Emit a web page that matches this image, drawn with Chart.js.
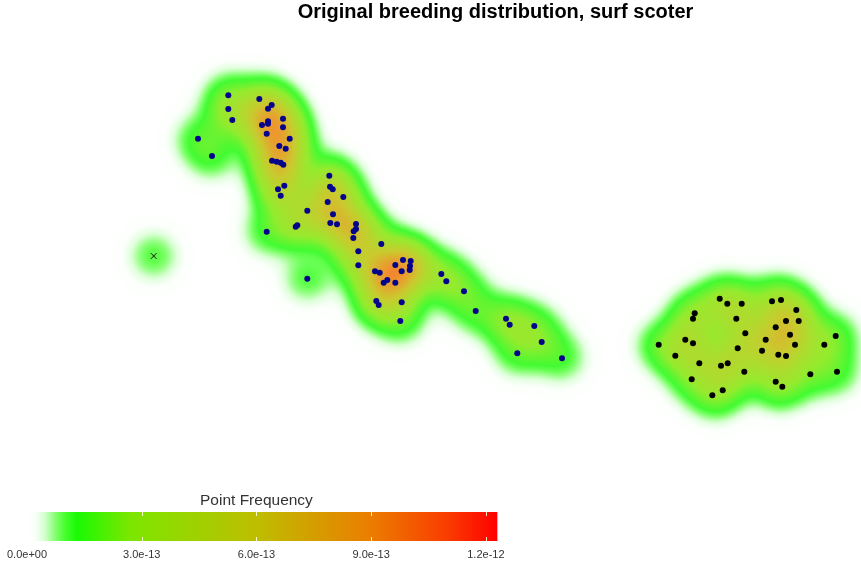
<!DOCTYPE html>
<html><head><meta charset="utf-8">
<style>html,body{margin:0;padding:0;background:#fff}canvas{display:block}</style>
<script src="https://cdn.jsdelivr.net/npm/chart.js@4"></script>
</head><body>
<div style="width:861px;height:564px"><canvas id="c" width="861" height="564"></canvas></div>
<script>
const chartTitle = "Original breeding distribution, surf scoter";
const legendTitle = "Point Frequency";
const westX = [228.3,228.3,232.3,198,212,259.3,271.7,268,283,283,268,268,262,266.7,289.7,279.3,285.7,272,276.7,280.7,283.3,284.3,278,280.7,307.3,266.7,295.7,297.3,307.3,329.3,330,332.7,343.3,327.7,333,330.3,337,356,356,353.7,353.3,358.3,358.3,381.3,375,379.7,395.3,403,410.7,410,409.7,401.7,387.3,383.7,395.3,376.3,378.7,401.7,400.3,441.3,446.3,464,475.7,506,509.7,534.3,541.7,517.3,562];
const westY = [95.3,109,120,138.7,156,99,105,108.7,118.7,127.3,121.3,123.7,125,133.7,138.7,146,148.7,160.7,161.7,162.7,164.7,185.7,189.3,195.7,210.7,231.7,226.7,225.3,278.7,175.7,186.7,189.3,197,202,214.3,223,224.3,224,229,231.3,238,251.3,265.3,244,271.3,272.7,265,260,261,266,270,271.3,280,282.7,282.7,301,305,302.3,321,274,281.3,291.3,311,318.7,324.7,326,342,353.3,358.3];
const eastX = [719.7,727.3,741.7,772,781,796.3,694.7,693,736.3,786,798.7,775.7,745.3,790,835.7,685.3,765.7,658.7,693,795,824.3,737.7,762,778.3,786,675.3,699.3,721,727.7,744.3,837,810.3,691.7,775.7,782.3,722.7,712.3];
const eastY = [298.7,303.7,303.7,301.3,300,310,313.3,318.7,318.7,321,321,327.3,333.3,334.7,336,339.7,339.7,344.7,343.3,344.7,344.7,348.3,350.7,354.7,356,355.7,363.3,365.7,363.3,371.7,371.7,374.3,379.3,381.7,386.7,390.3,395.3];
const crossX = [153.7];
const crossY = [256];
const tickValues = [0, 3e-13, 6e-13, 9e-13, 1.2e-12];
const rampValues = [0, 0.2e-13, 0.45e-13, 0.75e-13, 1.0e-13, 1.3e-13, 2.7e-13, 6e-13, 9e-13, 1.1e-12, 1.23e-12];
const rampColors = [[255,255,255],[250,255,250],[215,255,210],[130,255,110],[70,255,45],[25,250,5],[125,230,0],[190,190,0],[235,125,0],[250,60,0],[255,0,0]];
const bandwidth = 17;
const kernelPeak = 1.1e-13;
const heatOpacity = 0.82;

function rampColor(v){
  if(v<=rampValues[0]) return rampColors[0];
  for(let i=1;i<rampValues.length;i++){
    if(v<=rampValues[i]){
      const t=(v-rampValues[i-1])/(rampValues[i]-rampValues[i-1]);
      const a=rampColors[i-1],b=rampColors[i];
      return [a[0]+(b[0]-a[0])*t,a[1]+(b[1]-a[1])*t,a[2]+(b[2]-a[2])*t];
    }
  }
  return rampColors[rampColors.length-1];
}
const toPts=(xs,ys)=>xs.map((x,i)=>({x,y:ys[i]}));
const fmtTick=v=>{const [m,e]=Number(v).toExponential(1).split('e');const sign=e[0];const d=e.slice(1).padStart(2,'0');return m+'e'+sign+d;};

const heatPlugin={
  id:'heat',
  afterLayout(chart){ chart.titleBlock.left=130; },
  beforeDatasetsDraw(chart){
    const {ctx,scales:{x,y,f}}=chart;
    const W=chart.width,H=Math.round(y.getPixelForValue(505));
    const grid=new Float64Array(W*H);
    const ux=Math.abs(x.getPixelForValue(1)-x.getPixelForValue(0));
    const s=bandwidth*ux,R=Math.ceil(s*4);
    const add=(xs,ys)=>xs.forEach((vx,i)=>{
      const px=x.getPixelForValue(vx),py=y.getPixelForValue(ys[i]);
      for(let j=Math.max(0,Math.floor(py-R));j<Math.min(H,py+R);j++)
        for(let k=Math.max(0,Math.floor(px-R));k<Math.min(W,px+R);k++){
          const d=(k+.5-px)**2+(j+.5-py)**2;
          grid[j*W+k]+=kernelPeak*Math.exp(-d/(2*s*s));
        }
    });
    add(westX,westY);add(eastX,eastY);add(crossX,crossY);
    const off=document.createElement('canvas');off.width=W;off.height=H;
    const oc=off.getContext('2d'),img=oc.createImageData(W,H);
    for(let i=0;i<grid.length;i++){
      const c=rampColor(grid[i]);
      img.data[i*4]=c[0];img.data[i*4+1]=c[1];img.data[i*4+2]=c[2];img.data[i*4+3]=grid[i]<1e-15?0:255*heatOpacity;
    }
    oc.putImageData(img,0,0);
    ctx.drawImage(off,0,0);
    // colour bar
    const x0=f.getPixelForValue(0),x1=f.getPixelForValue(rampValues[rampValues.length-1]);
    const top=y.getPixelForValue(512),bot=y.getPixelForValue(541);
    const g=ctx.createLinearGradient(x0,0,x1,0);
    rampValues.forEach((v,i)=>g.addColorStop(v/rampValues[rampValues.length-1],`rgb(${rampColors[i].join(',')})`));
    ctx.fillStyle=g;ctx.fillRect(x0,top,x1-x0,bot-top);
    ctx.strokeStyle='rgba(255,255,220,.9)';ctx.lineWidth=1;
    tickValues.slice(1).forEach(v=>{
      const p=Math.round(f.getPixelForValue(v))+.5;
      ctx.beginPath();ctx.moveTo(p,top);ctx.lineTo(p,top+4);ctx.moveTo(p,bot-4);ctx.lineTo(p,bot);ctx.stroke();
    });
    ctx.fillStyle='#333';ctx.font='15.5px "Liberation Sans"';ctx.textAlign='center';ctx.textBaseline='middle';
    ctx.fillText(legendTitle,f.getPixelForValue(6e-13),y.getPixelForValue(501));
  }
};

new Chart(document.getElementById('c'),{
  type:'scatter',
  data:{datasets:[
    {label:'west',data:toPts(westX,westY),backgroundColor:'#05058c',borderColor:'#05058c',pointRadius:3,borderWidth:0,clip:false},
    {label:'east',data:toPts(eastX,eastY),backgroundColor:'#000',borderColor:'#000',pointRadius:3,borderWidth:0,clip:false},
    {label:'cross',data:toPts(crossX,crossY),pointStyle:'crossRot',pointRadius:4,borderColor:'#111',pointBorderWidth:1,backgroundColor:'#111',clip:false}
  ]},
  plugins:[heatPlugin],
  options:{
    responsive:false,animation:false,
    layout:{padding:0,autoPadding:false},
    plugins:{
      legend:{display:false},tooltip:{enabled:false},
      title:{display:true,text:chartTitle,color:'#000',font:{family:'"Liberation Sans"',size:20,weight:'bold'},padding:{top:0,bottom:0}}
    },
    scales:{
      x:{type:'linear',display:false,min:0,max:861},
      y:{type:'linear',display:false,reverse:true,min:24,max:544},
      f:{type:'linear',axis:'x',position:'bottom',
        min:-27/382.4e12,max:834/382.4e12,
        grid:{display:false,drawTicks:false},border:{display:false},
        afterBuildTicks(s){s.ticks=tickValues.map(value=>({value}));},
        afterFit(s){s.height=20;s.paddingLeft=0;s.paddingRight=0;},
        ticks:{autoSkip:false,maxRotation:0,padding:4,color:'#333',font:{family:'"Liberation Sans"',size:11},
          callback:fmtTick}
      }
    }
  }
});
</script></body></html>
